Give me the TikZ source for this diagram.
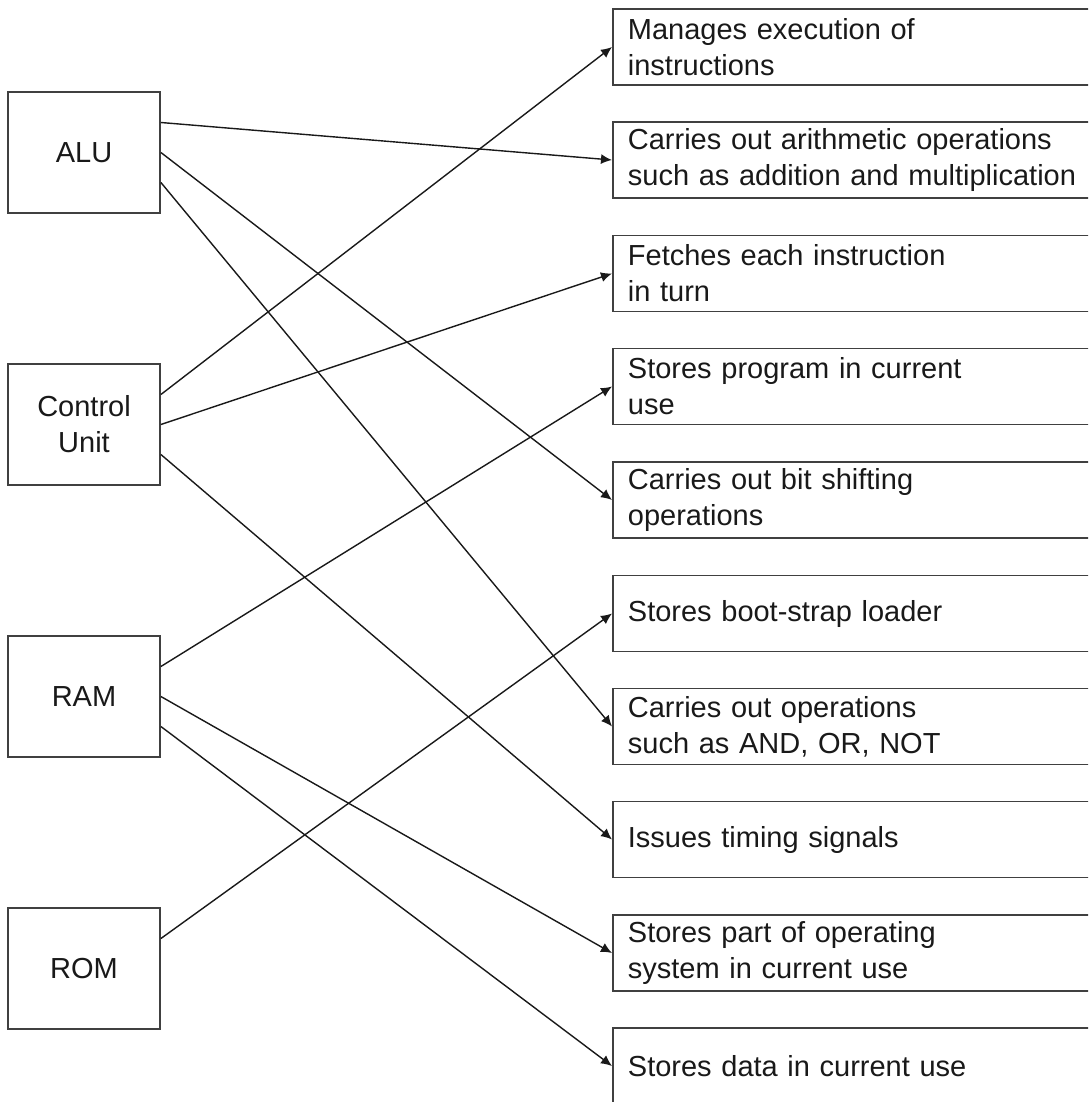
\documentclass[tikz,border=0pt]{standalone}
\usepackage{fontspec}
\setmainfont{Liberation Sans}
\usepackage{xcolor}
\usetikzlibrary{arrows.meta}

\begin{document}
\begin{tikzpicture}[x=0.5pt,y=-0.5pt]
		\clip (0,0) rectangle (1088,1102);
		\tikzstyle{every node}+=[draw=black!75,line width=0.9pt,inner sep=0pt,text=black!90,font=\fontsize{14.5}{18}\selectfont]
		\tikzstyle{unit}=[minimum width=76pt,minimum height=60.5pt,align=center]
		\tikzstyle{task}=[anchor=west,text width=240pt,inner xsep=7.5pt,minimum height=38pt,align=left]
		\node[unit] (alu) at (84,152.5) {ALU};
		\node[unit] (cu) at (84,424.5) {Control\\Unit};
		\node[unit] (ram) at (84,696.5) {RAM};
		\node[unit] (rom) at (84,968.5) {ROM};
		\node[task] (manage) at (612,47) {Manages execution of\\instructions};
		\node[task] (arith) at (612,160) {Carries out arithmetic operations\\such as addition and multiplication};
		\node[task] (fetch) at (612,273.5) {Fetches each instruction\\in turn};
		\node[task] (prog) at (612,386.5) {Stores program in current\\use};
		\node[task] (shift) at (612,500) {Carries out bit shifting\\operations};
		\node[task] (boot) at (612,613.5) {Stores boot-strap loader};
		\node[task] (logic) at (612,726.5) {Carries out operations\\such as AND, OR, NOT};
		\node[task] (timing) at (612,839.5) {Issues timing signals};
		\node[task] (os) at (612,953) {Stores part of operating\\system in current use};
		\node[task] (data) at (612,1066) {Stores data in current use};
		\tikzstyle{every edge}+=[draw=black!90,line width=0.7pt,-{Latex[length=5.5pt,width=5pt]}]
		\draw ([yshift=15pt]alu.east) edge (arith.west)
			  (alu.east) edge (shift.west)
			  ([yshift=-15pt]alu.east) edge (logic.west)
			  ([yshift=15pt]cu.east) edge (manage.west)
			  (cu.east) edge (fetch.west)
			  ([yshift=-15pt]cu.east) edge (timing.west)
			  ([yshift=15pt]ram.east) edge (prog.west)
			  (ram.east) edge (os.west)
			  ([yshift=-15pt]ram.east) edge (data.west)
			  ([yshift=15pt]rom.east) edge (boot.west);
\end{tikzpicture}
\end{document}
